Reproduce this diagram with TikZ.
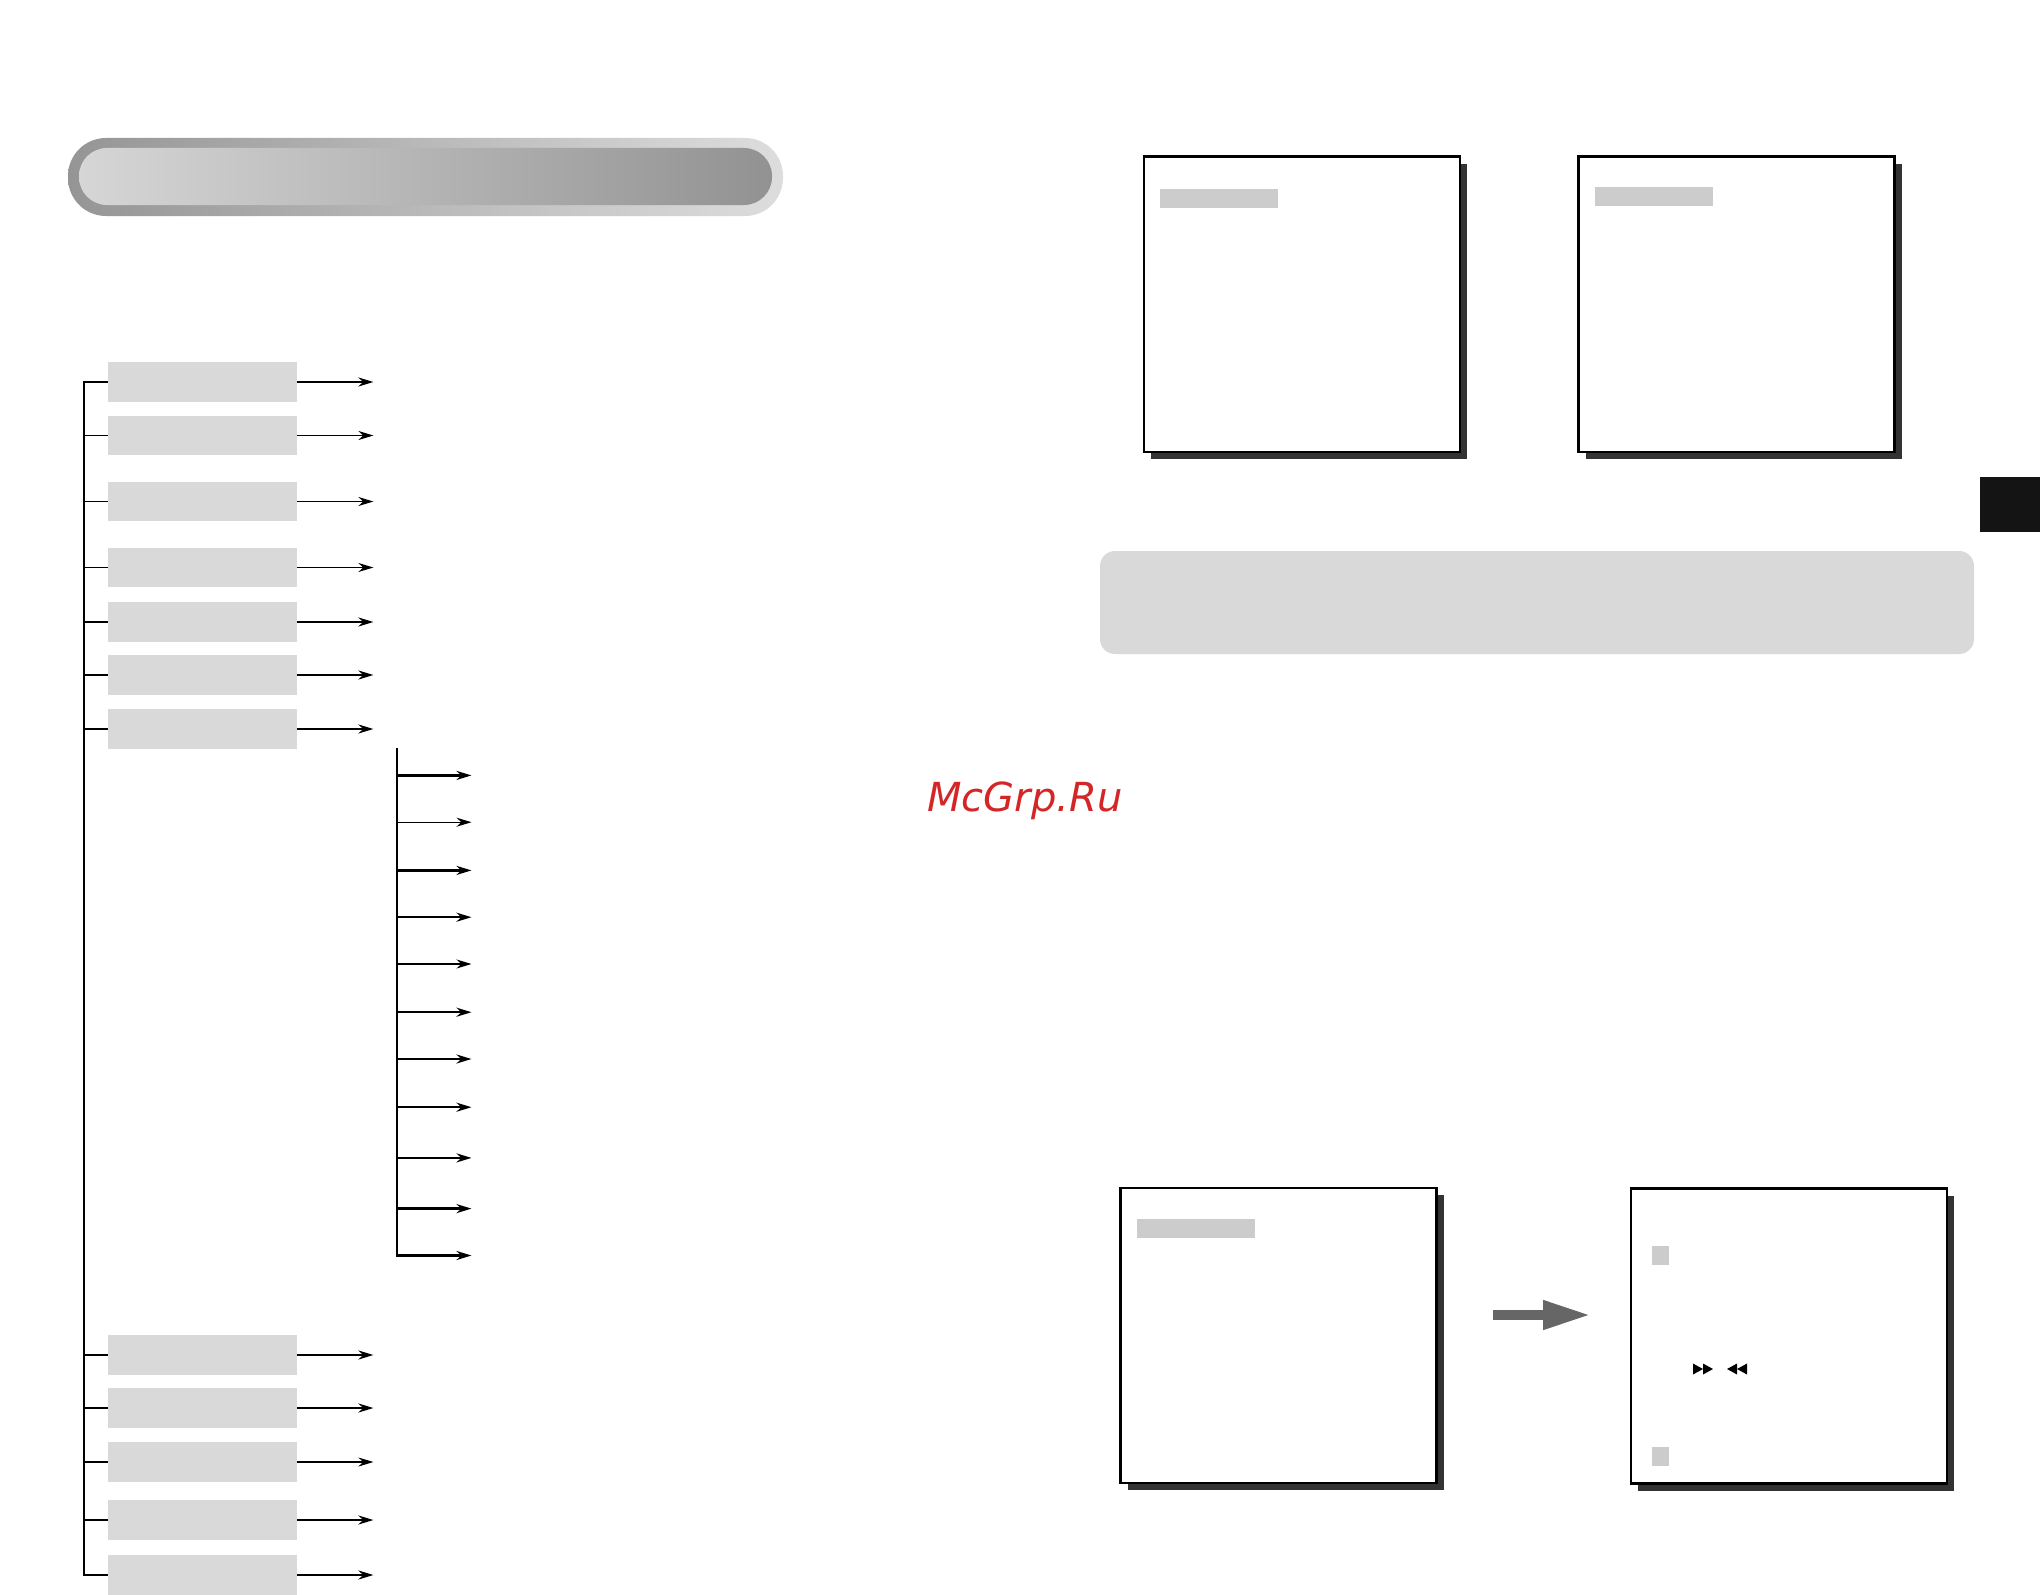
\documentclass[tikz,border=0pt]{standalone}
\usepackage{fontspec}
\usetikzlibrary{arrows.meta,shadows}
\newfontfamily\wmfont{DejaVu Sans}
\definecolor{boxgray}{RGB}{217,217,217}
\definecolor{bargray}{RGB}{204,204,204}
\definecolor{shadowgray}{RGB}{51,51,51}
\definecolor{arrowgray}{RGB}{102,102,102}
\definecolor{tabblack}{RGB}{20,20,20}
\definecolor{wmred}{RGB}{212,38,38}
\definecolor{titledark}{RGB}{149,149,149}
\definecolor{titlelight}{RGB}{221,221,221}
\definecolor{innerlight}{RGB}{214,214,214}
\definecolor{innerdark}{RGB}{146,146,146}

\begin{document}
\begin{tikzpicture}[
    x=0.5pt, y=-0.5pt,
    block/.style={rectangle, fill=boxgray, minimum width=94.5pt, minimum height=19.75pt, inner sep=0pt},
    screen/.style={rectangle, draw, line width=1.3pt, fill=white, minimum width=158pt, minimum height=147.5pt, inner sep=0pt,
        general shadow={fill=shadowgray, shadow xshift=3.5pt, shadow yshift=-3.5pt}},
    bar/.style={rectangle, fill=bargray, minimum width=59pt, minimum height=9.5pt, inner sep=0pt, anchor=north west},
    dot/.style={rectangle, fill=bargray, minimum width=8.5pt, minimum height=9.5pt, inner sep=0pt, anchor=north west},
    heavy/.style={line width=1.2pt},
    light/.style={line width=0.6pt},
    >={Stealth[length=7.5pt,width=4.5pt]}
]
    \fill[white] (0,0) rectangle (2040,1595);
    \useasboundingbox (0,0) rectangle (2040,1595);

    % Title bar
    \shade[left color=titledark, right color=titlelight, rounded corners=19pt] (68,138) rectangle (783,216);
    \shade[left color=innerlight, right color=innerdark, rounded corners=14pt] (79,148) rectangle (772,205);

    % Main menu
    \coordinate (trunkbot) at (84,1575);
    \node[block] (m1)  at (202.5,382)   {};
    \node[block] (m2)  at (202.5,435.5) {};
    \node[block] (m3)  at (202.5,501.5) {};
    \node[block] (m4)  at (202.5,567.5) {};
    \node[block] (m5)  at (202.5,622)   {};
    \node[block] (m6)  at (202.5,675)   {};
    \node[block] (m7)  at (202.5,729)   {};
    \node[block] (m8)  at (202.5,1355)  {};
    \node[block] (m9)  at (202.5,1408)  {};
    \node[block] (m10) at (202.5,1462)  {};
    \node[block] (m11) at (202.5,1520)  {};
    \node[block] (m12) at (202.5,1575)  {};

    % Trunk
    \draw[heavy] (m1.west) -| (trunkbot) -- (m12.west);
    \draw[light] (m2.west -| trunkbot)  -- (m2.west);
    \draw[light] (m3.west -| trunkbot)  -- (m3.west);
    \draw[light] (m4.west -| trunkbot)  -- (m4.west);
    \draw[heavy] (m5.west -| trunkbot)  -- (m5.west);
    \draw[heavy] (m6.west -| trunkbot)  -- (m6.west);
    \draw[heavy] (m7.west -| trunkbot)  -- (m7.west);
    \draw[heavy] (m8.west -| trunkbot)  -- (m8.west);
    \draw[heavy] (m9.west -| trunkbot)  -- (m9.west);
    \draw[light] (m10.west -| trunkbot) -- (m10.west);
    \draw[heavy] (m11.west -| trunkbot) -- (m11.west);

    % Outputs
    \draw[heavy,->] (m1.east)  -- ++(76,0);
    \draw[light,->] (m2.east)  -- ++(76,0);
    \draw[light,->] (m3.east)  -- ++(76,0);
    \draw[light,->] (m4.east)  -- ++(76,0);
    \draw[heavy,->] (m5.east)  -- ++(76,0);
    \draw[heavy,->] (m6.east)  -- ++(76,0);
    \draw[heavy,->] (m7.east)  -- ++(76,0);
    \draw[heavy,->] (m8.east)  -- ++(76,0);
    \draw[heavy,->] (m9.east)  -- ++(76,0);
    \draw[light,->] (m10.east) -- ++(76,0);
    \draw[heavy,->] (m11.east) -- ++(76,0);
    \draw[heavy,->] (m12.east) -- ++(76,0);

    % Sub menu
    \coordinate (subtop) at (397,748);
    \coordinate (s1)  at (471.5,775.4);
    \coordinate (s2)  at (471.5,822.2);
    \coordinate (s3)  at (471.5,870.4);
    \coordinate (s4)  at (471.5,917.2);
    \coordinate (s5)  at (471.5,964);
    \coordinate (s6)  at (471.5,1012.2);
    \coordinate (s7)  at (471.5,1059);
    \coordinate (s8)  at (471.5,1107.2);
    \coordinate (s9)  at (471.5,1157.9);
    \coordinate (s10) at (471.5,1208.6);
    \coordinate (s11) at (471.5,1255.5);

    \draw[heavy,->] (subtop) |- (s11);
    \draw[heavy,->] (s1 -| subtop)  -- (s1);
    \draw[light,->] (s2 -| subtop)  -- (s2);
    \draw[heavy,->] (s3 -| subtop)  -- (s3);
    \draw[heavy,->] (s4 -| subtop)  -- (s4);
    \draw[light,->] (s5 -| subtop)  -- (s5);
    \draw[heavy,->] (s6 -| subtop)  -- (s6);
    \draw[heavy,->] (s7 -| subtop)  -- (s7);
    \draw[heavy,->] (s8 -| subtop)  -- (s8);
    \draw[heavy,->] (s9 -| subtop)  -- (s9);
    \draw[heavy,->] (s10 -| subtop) -- (s10);

    % Screens
    \node[screen] (scr1) at (1302,304.3)  {};
    \node[screen] (scr2) at (1736.5,304.3) {};
    \node[screen] (scr3) at (1278.5,1335.5) {};
    \node[screen] (scr4) at (1789,1336)    {};

    \node[bar] (bar1) at ([shift={(17,33)}]scr1.north west) {};
    \node[bar] (bar2) at ([shift={(17,31)}]scr2.north west) {};
    \node[bar] (bar3) at ([shift={(17,32)}]scr3.north west) {};
    \node[dot] (dot1) at ([shift={(22,58)}]scr4.north west)  {};
    \node[dot] (dot2) at ([shift={(22,259)}]scr4.north west) {};

    % Skip marks
    \fill[black] (1693,1363.5) -- (1703,1369) -- (1693,1374.5) -- cycle;
    \fill[black] (1703,1363.5) -- (1713,1369) -- (1703,1374.5) -- cycle;
    \fill[black] (1737,1363.5) -- (1727,1369) -- (1737,1374.5) -- cycle;
    \fill[black] (1747,1363.5) -- (1737,1369) -- (1747,1374.5) -- cycle;

    % Step arrow
    \coordinate (a1) at (1493,1315);
    \coordinate (a2) at (1591,1315);
    \draw[arrowgray, line width=5pt, -{Triangle[length=24pt,width=13.5pt]}] (a1) -- (a2);

    % Note panel and tab
    \fill[boxgray, rounded corners=7.5pt] (1100,551) rectangle (1974,654);
    \fill[tabblack] (1980,477) rectangle (2040,532);

    % Watermark
    \node[text=wmred, font=\wmfont\itshape\fontsize{20pt}{24pt}\selectfont, anchor=base] (wm) at (1025,811) {McGrp.Ru};
\end{tikzpicture}
\end{document}
